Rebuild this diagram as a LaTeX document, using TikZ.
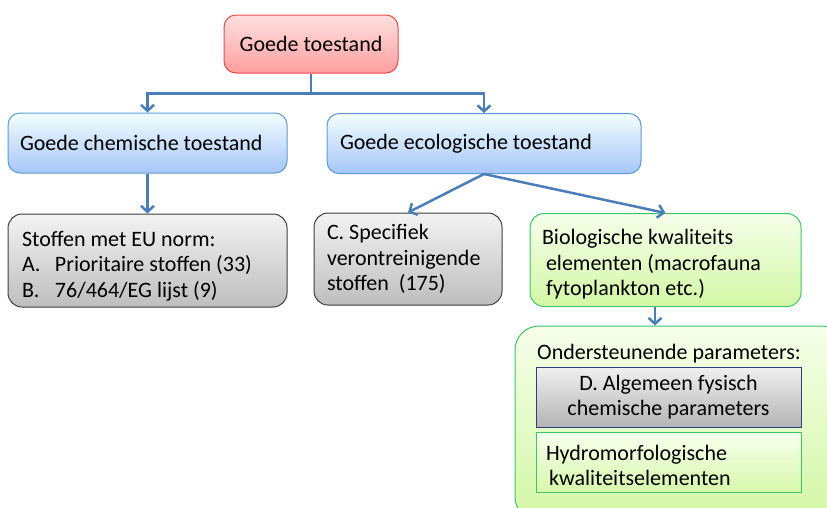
\documentclass[tikz,border=0pt]{standalone}
\usepackage{fontspec}
\setmainfont{Carlito}
\usetikzlibrary{positioning, arrows.meta}

\definecolor{pijlblauw}{HTML}{4A7EBB}
\definecolor{randrood}{HTML}{EE4A4A}
\definecolor{randblauw}{HTML}{5B9BD5}
\definecolor{randgrijs}{HTML}{3F3F3F}
\definecolor{randgroen}{HTML}{3CC66A}
\definecolor{randdonker}{HTML}{2E3E7A}

\begin{document}
\begin{tikzpicture}[x=1pt, y=-1pt, font=\fontsize{22}{25.5}\selectfont,
    box/.style={draw, rounded corners=12pt, line width=1pt, inner ysep=4pt, align=flush left},
    rood/.style={box, draw=randrood, top color=red!12, bottom color=red!38!white, align=center},
    blauw/.style={box, draw=randblauw, top color=blue!10!cyan!5!white, bottom color={rgb,255:red,166;green,198;blue,248}},
    grijs/.style={box, draw=randgrijs, rounded corners=14pt, top color={rgb,255:red,243;green,243;blue,243}, bottom color={rgb,255:red,190;green,190;blue,190}},
    groen/.style={box, draw=randgroen, rounded corners=14pt, top color={rgb,255:red,246;green,255;blue,234}, bottom color={rgb,255:red,210;green,247;blue,164}},
    vak/.style={draw, line width=1pt, inner ysep=4pt},
    pijl/.style={draw=pijlblauw, line width=2.5pt, -{Straight Barb[length=6pt, width=13pt]}}]

\useasboundingbox (0,0) rectangle (827,507);

\node (goed) [rood, minimum width=174pt, minimum height=58pt] at (311,44) {Goede toestand};
\node (chem) [blauw, minimum width=279pt, minimum height=60pt, inner xsep=12pt, text width=255pt] at (147.5,143) {Goede chemische toestand};
\node (eco) [blauw, minimum width=314pt, minimum height=60pt, inner xsep=13pt, text width=288pt] at (484,143.5) {Goede ecologische toestand};

\node (stoffen) [grijs, minimum width=279pt, minimum height=93pt, inner xsep=14pt, text width=251pt] at (147.5,260.5)
    {\rule{0pt}{26pt}Stoffen met EU norm:\\ \makebox[33pt][l]{A.}Prioritaire stoffen (33)\\ \makebox[33pt][l]{B.}76/464/EG lijst (9)};
\node (cspec) [grijs, minimum width=188pt, minimum height=92pt, inner xsep=13pt, text width=162pt] at (408,259)
    {C. Specifiek\\ verontreinigende\\ stoffen~ (175)};
\node (bio) [groen, minimum width=271pt, minimum height=93pt, inner xsep=12pt, text width=247pt] at (665.5,260)
    {\rule{0pt}{24pt}Biologische kwaliteits\\ \hspace*{4pt}elementen (macrofauna\\ \hspace*{4pt}fytoplankton etc.)};

% ondersteunende parameters
\node (steun) [groen, rounded corners=24pt, minimum width=330pt, minimum height=195pt] at (680,423.5) {};
\node (steunlabel) [anchor=west, inner sep=0pt] at (537,354) {Ondersteunende parameters:};
\node (algemeen) [vak, draw=randdonker, top color={rgb,255:red,240;green,240;blue,240}, bottom color={rgb,255:red,180;green,180;blue,180}, minimum width=265pt, minimum height=60pt, align=center] at (668.5,397)
    {D. Algemeen fysisch\\ chemische parameters};
\node (hydro) [vak, draw=randgroen, top color={rgb,255:red,248;green,255;blue,238}, bottom color={rgb,255:red,214;green,248;blue,170}, minimum width=265pt, minimum height=60pt, inner xsep=10pt, text width=245pt, align=flush left] at (668.5,462)
    {\rule{0pt}{22pt}Hydromorfologische\\ \hspace*{3pt}kwaliteitselementen};

\draw[pijl] (goed.south) -- ++(0,20) -| (chem.north);
\draw[pijl] (goed.south) -- ++(0,20) -| (eco.north);
\draw[pijl] (chem) -- (stoffen);
\draw[pijl] (eco.south) -- (cspec.north);
\draw[pijl] (eco.south) -- (bio.north);
\draw[pijl] ([xshift=-10.5pt]bio.south) -- ([xshift=-10.5pt]bio.south |- steun.north);
\end{tikzpicture}
\end{document}
